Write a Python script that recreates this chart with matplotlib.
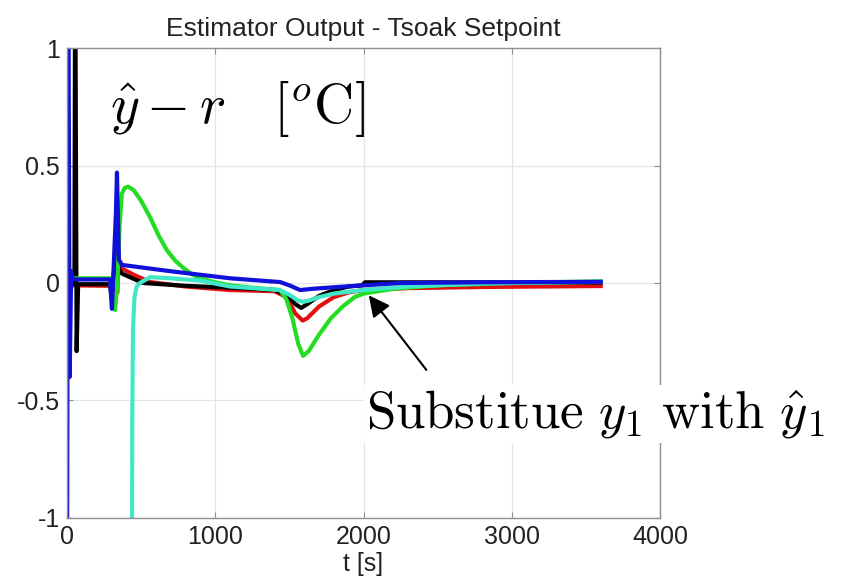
import matplotlib
matplotlib.use('Agg')
import matplotlib.pyplot as plt

plt.rcParams['font.family'] = ['Liberation Sans', 'DejaVu Sans']
plt.rcParams['mathtext.fontset'] = 'cm'

# (t [s], y - r [degC]) for each estimator run
red_t = [20, 290, 340, 345, 360, 450, 560, 800, 1100, 1400, 1480, 1540, 1590, 1620, 1700, 1800, 1900, 2000, 2300, 2800, 3600]
red_y = [-0.01, -0.012, -0.04, 0.10, 0.065, 0.035, 0.004, -0.015, -0.03, -0.035, -0.06, -0.13, -0.16, -0.15, -0.10, -0.06, -0.04, -0.03, -0.022, -0.017, -0.013]

black_t = [0, 50, 55, 65, 75, 290, 300, 340, 350, 370, 513, 800, 1100, 1400, 1480, 1540, 1580, 1620, 1700, 1800, 1900, 1990, 2010, 2500, 3600]
black_y = [-0.005, -0.005, 1.5, -0.29, -0.005, -0.005, -0.06, 0.2, 0.06, 0.04, 0.0, -0.012, -0.02, -0.03, -0.05, -0.09, -0.106, -0.09, -0.055, -0.03, -0.015, -0.01, 0.003, 0.003, 0.002]

green_t = [20, 290, 300, 324, 340, 355, 370, 390, 412, 450, 500, 560, 620, 673, 730, 785, 840, 897, 1000, 1100, 1250, 1437, 1480, 1520, 1560, 1592, 1630, 1700, 1780, 1860, 1940, 2000, 2200, 2500, 3000, 3600]
green_y = [0.02, 0.02, -0.05, -0.115, 0.0, 0.25, 0.38, 0.405, 0.41, 0.395, 0.35, 0.28, 0.2, 0.14, 0.095, 0.064, 0.038, 0.02, 0.003, -0.01, -0.02, -0.03, -0.07, -0.15, -0.26, -0.31, -0.29, -0.22, -0.15, -0.1, -0.06, -0.045, -0.025, -0.01, 0.0, 0.007]

cyan_t = [437, 440, 445, 455, 470, 492, 560, 700, 900, 1100, 1437, 1500, 1560, 1592, 1630, 1700, 1800, 2000, 2300, 2800, 3600]
cyan_y = [-1.5, -0.6, -0.2, -0.06, -0.015, 0.0, 0.025, 0.02, 0.01, -0.015, -0.03, -0.05, -0.075, -0.08, -0.075, -0.06, -0.045, -0.03, -0.015, -0.002, 0.005]

blue_t = [0, 8, 18, 28, 40, 290, 303, 330, 337, 350, 370, 700, 1100, 1437, 1500, 1572, 1650, 1800, 2000, 2250, 2800, 3600]
blue_y = [-1.5, 1.5, -0.4, 0.05, 0.015, 0.015, -0.11, 0.3, 0.47, 0.1, 0.077, 0.05, 0.02, 0.004, -0.01, -0.03, -0.025, -0.018, -0.01, 0.0, 0.003, 0.005]

series = [
    (red_t, red_y, '#e01010'),
    (black_t, black_y, '#000000'),
    (green_t, green_y, '#22dd22'),
    (cyan_t, cyan_y, '#40e8c8'),
    (blue_t, blue_y, '#1010d8'),
]

x_ticks = [0, 1000, 2000, 3000, 4000]
y_ticks = [-1, -0.5, 0, 0.5, 1]
y_tick_labels = ['-1', '-0.5', '0', '0.5', '1']

fig = plt.figure(figsize=(8.46, 5.82), dpi=100)
ax = fig.add_axes([0.0792, 0.110, 0.701, 0.8075])

for t, y, c in series:
    ax.plot(t, y, color=c, linewidth=3.0, solid_joinstyle='round')

ax.set_xlim(0, 4000)
ax.set_ylim(-1, 1)
ax.set_xticks(x_ticks)
ax.set_xticklabels([str(v) for v in x_ticks])
ax.set_yticks(y_ticks)
ax.set_yticklabels(y_tick_labels)
ax.grid(True, color='#e4e4e4', linewidth=0.9)
ax.set_axisbelow(True)
ax.tick_params(direction='in', length=4, width=0.8, color='#909090',
               top=True, right=True, labelsize=18, labelcolor='#222222', pad=5)
for sp in ax.spines.values():
    sp.set_color('#909090')
    sp.set_linewidth(1.0)

ax.set_title('Estimator Output - Tsoak Setpoint', fontsize=19, color='#222222', pad=9)
ax.set_xlabel('t [s]', fontsize=18, color='#222222', labelpad=2)

ax.text(290, 0.68, r'$\hat{y} - r \quad [^o\mathrm{C}]$',
        fontsize=40, va='baseline', ha='left')

ax.annotate('', xy=(2024, -0.043), xytext=(2435, -0.379),
            arrowprops=dict(arrowstyle='-|>', color='k', lw=1.5, mutation_scale=32))
ax.text(2020, -0.615, r'$\mathrm{Substitue}\ y_1\ \mathrm{with}\ \hat{y}_1$',
        fontsize=38, va='baseline', ha='left', clip_on=False,
        bbox=dict(facecolor='white', edgecolor='none', pad=2))

fig.savefig('out.png', dpi=100)
